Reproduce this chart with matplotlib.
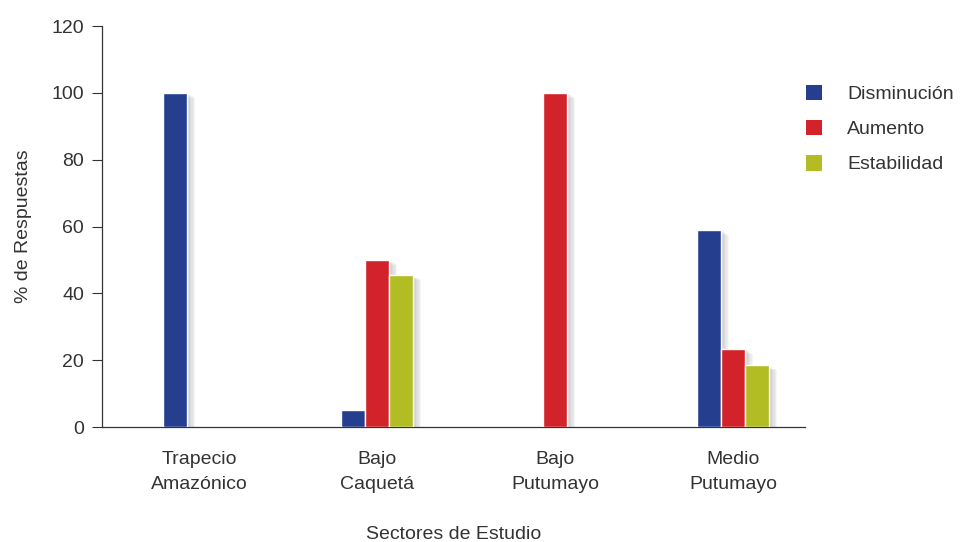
import matplotlib
matplotlib.use("Agg")
import matplotlib.pyplot as plt
import matplotlib.patheffects as pe
from matplotlib.patches import Patch
import numpy as np

plt.rcParams['font.family'] = ['Liberation Sans', 'DejaVu Sans']

sectores = ['Trapecio\nAmazónico', 'Bajo\nCaquetá', 'Bajo\nPutumayo', 'Medio\nPutumayo']
series = ['Disminución', 'Aumento', 'Estabilidad']
disminucion = [100, 5, 0, 59]
aumento = [0, 50, 100, 23.5]
estabilidad = [0, 45.5, 0, 18.5]
colores = ['#253f8e', '#d2232a', '#b1bd22']

txt = '#333333'
fig = plt.figure(figsize=(9.72, 5.42), dpi=100)
ax = fig.add_axes([0.105, 0.212, 0.723, 0.740])

x = np.arange(len(sectores))
w = 0.135
# soft shadow: several faint offset copies
shadow = [pe.SimplePatchShadow(offset=(d, -d * 0.6), shadow_rgbFace='#777777', alpha=0.07)
          for d in (1, 2, 3, 4, 5, 6)] + [pe.Normal()]
for i, (vals, c) in enumerate(zip([disminucion, aumento, estabilidad], colores)):
    bars = ax.bar(x + (i - 1) * w, vals, width=w, color=c, edgecolor='white',
                  linewidth=1.0, zorder=3)
    for b, v in zip(bars, vals):
        if v > 0:
            b.set_path_effects(shadow)
        else:
            b.set_visible(False)

ax.set_ylim(0, 120)
ax.set_xlim(-0.545, 3.404)
ax.set_yticks(range(0, 121, 20))
ax.set_xticks(x)
ax.set_xticklabels(sectores, fontsize=14, color=txt, linespacing=1.65)
ax.tick_params(axis='x', length=0, pad=17)
ax.tick_params(axis='y', length=7, width=0.8, color='#333333', labelsize=14,
               labelcolor=txt, pad=6)
for s in ['top', 'right']:
    ax.spines[s].set_visible(False)
for s in ['left', 'bottom']:
    ax.spines[s].set_color('#333333')
    ax.spines[s].set_linewidth(0.9)

ax.set_ylabel('% de Respuestas', fontsize=14, color=txt, labelpad=14)
ax.set_xlabel('Sectores de Estudio', fontsize=14, color=txt, labelpad=24)

handles = [Patch(facecolor=c, edgecolor='none', label=s) for c, s in zip(colores, series)]
leg = ax.legend(handles=handles, loc='upper left', bbox_to_anchor=(1.001, 0.853),
                frameon=False, fontsize=14, handlelength=0.85, handleheight=0.85,
                handletextpad=1.3, labelspacing=0.85, borderaxespad=0, borderpad=0)
for t in leg.get_texts():
    t.set_color(txt)

fig.savefig('out.png', dpi=100)
